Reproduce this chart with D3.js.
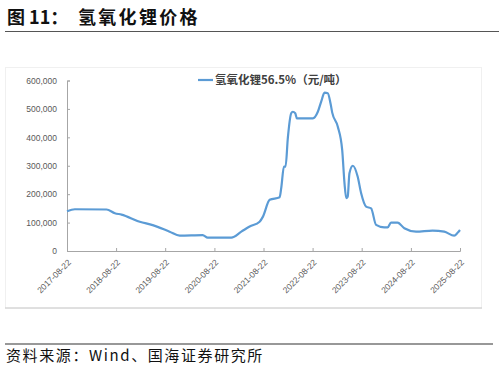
<!DOCTYPE html>
<html>
<head>
<meta charset="utf-8">
<script src="https://cdn.jsdelivr.net/npm/d3@7"></script>
<style>
  body { margin: 0; background: #fff; }
  svg { display: block; font-family: "Noto Sans CJK SC", "Liberation Sans", sans-serif; }
</style>
</head>
<body>
<div id="chart"></div>
<script>
// price of lithium hydroxide 56.5%, yuan/ton
var dates = [
  "2017-08-22", "2017-10-20", "2018-06-12", "2018-08-13", "2018-10-01",
  "2019-02-14", "2019-05-21", "2019-09-24", "2019-12-08", "2020-05-27",
  "2020-07-03", "2020-12-26", "2021-03-10", "2021-05-11", "2021-07-24",
  "2021-08-18", "2021-10-07", "2021-12-20", "2022-01-01", "2022-01-21",
  "2022-02-02", "2022-02-19", "2022-03-16", "2022-03-28", "2022-04-15",
  "2022-04-27", "2022-08-24", "2022-09-30", "2022-10-25", "2022-11-19",
  "2022-12-13", "2023-01-02", "2023-01-15", "2023-02-25", "2023-03-30",
  "2023-04-16", "2023-04-29", "2023-05-10", "2023-05-23", "2023-06-17",
  "2023-07-23", "2023-08-18", "2023-09-24", "2023-10-31", "2023-12-07",
  "2024-02-06", "2024-03-02", "2024-03-27", "2024-05-15", "2024-07-04",
  "2024-09-29", "2025-01-30", "2025-04-27", "2025-07-10", "2025-08-04",
  "2025-08-22"
];
var prices = [
  140000, 147000, 146000, 133000, 128000,
  103000, 91000, 68000, 54000, 56000,
  47000, 47000, 68000, 86000, 103000,
  121000, 180000, 189000, 222000, 297000,
  297000, 398000, 485000, 490000, 485000,
  467000, 467000, 490000, 526000, 557000,
  555000, 520000, 487000, 438000, 356000,
  240000, 186000, 191000, 274000, 300000,
  262000, 203000, 156000, 150000, 92000,
  83000, 83000, 100000, 100000, 80000,
  68000, 72000, 68000, 54000, 64000,
  74000
];
var xTickLabels = ["2017-08-22", "2018-08-22", "2019-08-22", "2020-08-22", "2021-08-22",
                   "2022-08-22", "2023-08-22", "2024-08-22", "2025-08-22"];
var yTicks = [0, 100000, 200000, 300000, 400000, 500000, 600000];
var seriesName = "氢氧化锂56.5%（元/吨）";

var W = 499, H = 372;
var margin = {top: 80.5, right: 39, bottom: 121, left: 67};
var width = W - margin.left - margin.right,
    height = H - margin.top - margin.bottom;

var parse = d3.timeParse("%Y-%m-%d");
var data = dates.map(function (d, i) { return {date: parse(d), value: prices[i]}; });

var svg = d3.select("#chart").append("svg")
  .attr("width", W)
  .attr("height", H);

// title + rules
var title = svg.append("text")
  .attr("y", 24)
  .attr("font-size", 18).attr("font-weight", "bold").attr("fill", "#111");
title.append("tspan").attr("x", 7).text("图 11：");
title.append("tspan").attr("x", 78).attr("letter-spacing", 2.3).text("氢氧化锂价格");
svg.append("line")
  .attr("x1", 5).attr("x2", 499).attr("y1", 31.5).attr("y2", 31.5)
  .attr("stroke", "#555").attr("stroke-width", 1.2);

// chart frame
svg.append("rect")
  .attr("x", 5.5).attr("y", 67.5).attr("width", 476).attr("height", 240.5)
  .attr("fill", "none").attr("stroke", "#f0f0f0");
svg.append("line")
  .attr("x1", 5).attr("x2", 482).attr("y1", 308).attr("y2", 308)
  .attr("stroke", "#c8c8c8");

svg.append("line")
  .attr("x1", 5).attr("x2", 493).attr("y1", 344).attr("y2", 344)
  .attr("stroke", "#333").attr("stroke-width", 1.2);
svg.append("text")
  .attr("x", 6).attr("y", 361)
  .attr("font-size", 15).attr("letter-spacing", 1.6).attr("fill", "#111")
  .text("资料来源：Wind、国海证券研究所");

var g = svg.append("g")
  .attr("transform", "translate(" + margin.left + "," + margin.top + ")");

var x = d3.scaleTime()
  .domain([parse(xTickLabels[0]), parse(xTickLabels[xTickLabels.length - 1])])
  .range([0, width]);
var y = d3.scaleLinear().domain([0, 600000]).range([height, 0]);

// y axis
var yAxis = d3.axisLeft(y).tickValues(yTicks).tickSize(-3).tickPadding(10)
  .tickFormat(d3.format(","));
var gy = g.append("g").attr("class", "axis y").call(yAxis);
gy.select(".domain").attr("stroke", "#a6a6a6");
gy.selectAll(".tick line").attr("stroke", "#a6a6a6");
gy.selectAll(".tick text").attr("fill", "#595959").attr("font-size", 8.5)
  .attr("font-family", "Liberation Sans, sans-serif");

// x axis
var xAxis = d3.axisBottom(x).tickValues(xTickLabels.map(parse)).tickSize(-3)
  .tickFormat(d3.timeFormat("%Y-%m-%d"));
var gx = g.append("g").attr("class", "axis x")
  .attr("transform", "translate(0," + height + ")")
  .call(xAxis);
gx.select(".domain").attr("stroke", "#a6a6a6");
gx.selectAll(".tick line").attr("stroke", "#a6a6a6");
gx.selectAll(".tick text")
  .attr("fill", "#595959").attr("font-size", 8.5)
  .attr("font-family", "Liberation Sans, sans-serif")
  .attr("text-anchor", "end")
  .attr("dy", null).attr("y", null)
  .attr("transform", "translate(4,12) rotate(-45)");

// series line
var line = d3.line()
  .x(function (d) { return x(d.date); })
  .y(function (d) { return y(d.value); })
  .curve(d3.curveMonotoneX);
g.append("path")
  .datum(data)
  .attr("fill", "none")
  .attr("stroke", "#5b9bd5")
  .attr("stroke-width", 2.2)
  .attr("stroke-linejoin", "round")
  .attr("d", line);

// legend
var legend = svg.append("g").attr("transform", "translate(198,80)");
legend.append("line")
  .attr("x1", 0).attr("x2", 15).attr("y1", 0).attr("y2", 0)
  .attr("stroke", "#5b9bd5").attr("stroke-width", 2.2);
legend.append("text")
  .attr("x", 17).attr("y", 4)
  .attr("font-size", 11.5).attr("font-weight", "bold").attr("fill", "#404040")
  .text(seriesName);
</script>
</body>
</html>
